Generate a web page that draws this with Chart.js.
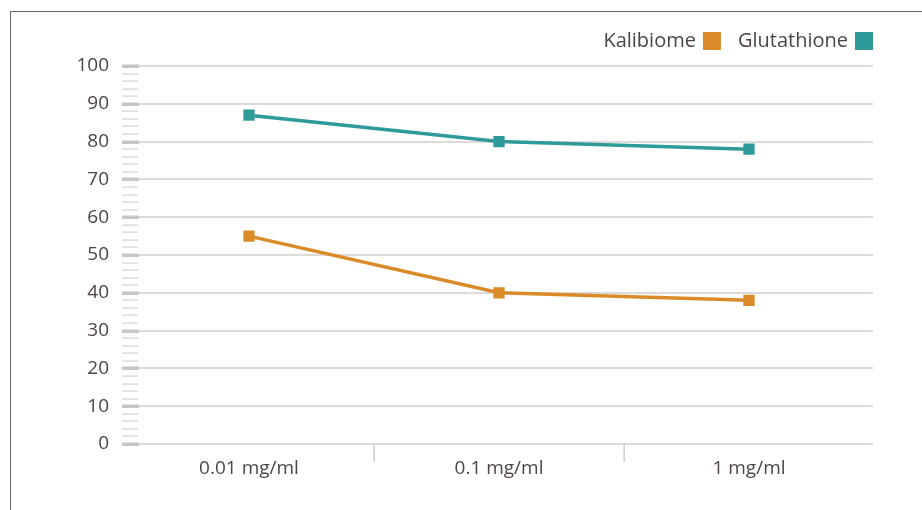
<!DOCTYPE html>
<html>
<head>
<meta charset="utf-8">
<script src="https://cdn.jsdelivr.net/npm/chart.js@4/dist/chart.umd.min.js"></script>
<style>
  html, body { margin: 0; padding: 0; background: #fff; }
  #wrap { position: relative; width: 922px; height: 510px; overflow: hidden; }
  #frame { position: absolute; left: 10px; top: 11px; width: 1000px; height: 600px;
           border: 1.5px solid #666; box-sizing: border-box; pointer-events: none; }
  canvas { position: absolute; left: 0; top: 0; }
</style>
</head>
<body>
<div id="wrap">
  <canvas id="c" width="922" height="510"></canvas>
  <div id="frame"></div>
</div>
<script>
const categories = ['0.01 mg/ml', '0.1 mg/ml', '1 mg/ml'];
const kalibiome = [55, 40, 38];
const glutathione = [87, 80, 78];
const seriesNames = ['Kalibiome', 'Glutathione'];
const seriesColors = ['#DA8B27', '#2F9A9A'];

const FONT = '"Open Sans", "Noto Sans", sans-serif';
const TEXT = '#4d4545';

// Gridlines, ruler-style y ticks and category dividers
const axisDecor = {
  id: 'axisDecor',
  beforeDatasetsDraw(chart) {
    const { ctx, chartArea: a, scales: { x, y } } = chart;
    ctx.save();
    for (let v = 0; v <= 100; v += 2) {
      const py = Math.round(y.getPixelForValue(v));
      if (v % 10 === 0) {
        ctx.fillStyle = '#d2cecd';
        ctx.fillRect(a.left + 15, py - 0.75, a.right - a.left - 16, 1.5);
        ctx.fillStyle = '#c9c5c4';
        ctx.fillRect(a.left - 2, py - 1.5, 17, 3.5);
      } else {
        ctx.fillStyle = '#d6d2d1';
        ctx.fillRect(a.left - 2, py - 0.5, 16, 1.2);
      }
    }
    ctx.fillStyle = '#c4c0bf';
    for (let i = 0; i < categories.length - 1; i++) {
      const px = Math.round((x.getPixelForValue(i) + x.getPixelForValue(i + 1)) / 2);
      ctx.fillRect(px - 0.5, a.bottom, 1.2, 18);
    }
    ctx.restore();
  }
};

// Legend: label first, colour swatch to its right
const swatchLegend = {
  id: 'swatchLegend',
  afterDraw(chart) {
    const { ctx, chartArea: a } = chart;
    ctx.save();
    ctx.font = '20px ' + FONT;
    ctx.textBaseline = 'middle';
    ctx.textAlign = 'right';
    let right = a.right - 1;
    const cy = 41;
    for (let i = seriesNames.length - 1; i >= 0; i--) {
      ctx.fillStyle = seriesColors[i];
      ctx.fillRect(right - 18, cy - 9, 18, 18);
      ctx.fillStyle = TEXT;
      ctx.fillText(seriesNames[i], right - 25, cy);
      right = right - 25 - ctx.measureText(seriesNames[i]).width - 17;
    }
    ctx.restore();
  }
};

new Chart(document.getElementById('c'), {
  type: 'line',
  data: {
    labels: categories,
    datasets: [
      { label: seriesNames[0], data: kalibiome, borderColor: seriesColors[0], backgroundColor: seriesColors[0],
        borderWidth: 3.5, pointStyle: 'rect', pointRadius: 5.5, pointHoverRadius: 5.5, tension: 0 },
      { label: seriesNames[1], data: glutathione, borderColor: seriesColors[1], backgroundColor: seriesColors[1],
        borderWidth: 3.5, pointStyle: 'rect', pointRadius: 5.5, pointHoverRadius: 5.5, tension: 0 }
    ]
  },
  options: {
    responsive: false,
    animation: false,
    devicePixelRatio: 1,
    layout: { padding: { left: 0, right: 48, top: 66, bottom: 0 } },
    plugins: { legend: { display: false }, tooltip: { enabled: false } },
    scales: {
      x: {
        offset: true,
        grid: { display: false },
        border: { display: false },
        ticks: { color: TEXT, font: { family: FONT, size: 19 }, padding: 5 },
        afterFit(s) { s.height = 66; }
      },
      y: {
        min: 0, max: 100,
        grid: { display: false },
        border: { display: false },
        ticks: { stepSize: 10, color: TEXT, font: { family: FONT, size: 19 }, padding: 7 },
        afterFit(s) { s.width = 124; }
      }
    }
  },
  plugins: [axisDecor, swatchLegend]
});
</script>
</body>
</html>
